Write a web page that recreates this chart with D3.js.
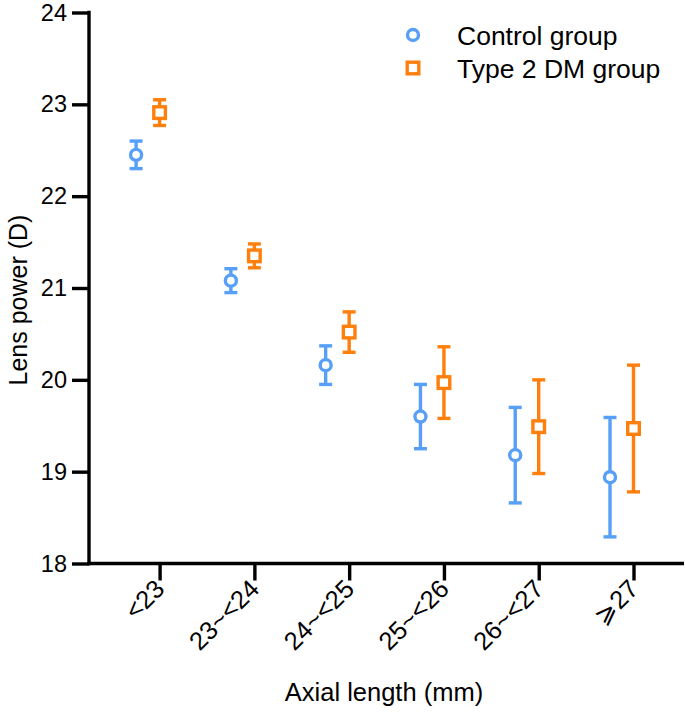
<!DOCTYPE html>
<html>
<head>
<meta charset="utf-8">
<script src="https://cdn.jsdelivr.net/npm/d3@7"></script>
<style>
  html, body { margin: 0; padding: 0; background: #fff; }
  svg { display: block; font-family: "Liberation Sans", Arial, sans-serif; }
</style>
</head>
<body>
<svg id="chart" width="685" height="716"></svg>
<script>
const categories = ["<23", "23~<24", "24~<25", "25~<26", "26~<27", "\u2A7E27"];
const controlMean = [22.45, 21.08, 20.16, 19.60, 19.18, 18.94];
const controlErr  = [0.15, 0.13, 0.21, 0.35, 0.52, 0.65];
const dmMean      = [22.91, 21.35, 20.52, 19.97, 19.49, 19.47];
const dmErr       = [0.14, 0.13, 0.22, 0.39, 0.51, 0.69];
const yTicks = [18, 19, 20, 21, 22, 23, 24];
const seriesNames = ["Control group", "Type 2 DM group"];
const colors = ["#579ff7", "#ff7f0c"];

const svg = d3.select("#chart");
const axisX0 = 89, axisX1 = 684;
const y = d3.scaleLinear().domain([18, 24]).range([563.5, 12.5]);
const x = d3.scalePoint().domain(categories).range([159.6, 633.5]);
const offsets = [-23.5, 0];
const sw = 3.4;

// Y axis
const yAxis = d3.axisLeft(y).tickValues(yTicks).tickSize(17).tickPadding(5).tickFormat(d3.format("d"));
const gy = svg.append("g").attr("transform", `translate(${axisX0},0)`).call(yAxis);
gy.select(".domain").remove();
gy.selectAll(".tick line").attr("stroke", "#000").attr("stroke-width", sw);
gy.selectAll(".tick text").attr("font-size", 23.5).attr("fill", "#000")
  .attr("font-family", "Liberation Sans, Arial, sans-serif");
svg.append("line").attr("x1", axisX0).attr("x2", axisX0)
  .attr("y1", y(24) - sw / 2).attr("y2", y(18) + sw / 2)
  .attr("stroke", "#000").attr("stroke-width", sw);

// X axis
const xAxis = d3.axisBottom(x).tickSize(17).tickFormat(() => "");
const gx = svg.append("g").attr("transform", `translate(0,${y(18)})`).call(xAxis);
gx.select(".domain").remove();
gx.selectAll(".tick line").attr("stroke", "#000").attr("stroke-width", sw);
svg.append("line").attr("x1", axisX0 - sw / 2).attr("x2", axisX1)
  .attr("y1", y(18)).attr("y2", y(18))
  .attr("stroke", "#000").attr("stroke-width", sw);

gx.selectAll(".tick").append("text")
  .text(d => d)
  .attr("text-anchor", "end")
  .attr("font-size", 25.5)
  .attr("fill", "#000")
  .attr("font-family", "Liberation Sans, Arial, sans-serif")
  .attr("transform", "translate(6,27) rotate(-45)");

// Axis titles
svg.append("text").text("Axial length (mm)")
  .attr("x", 384).attr("y", 701).attr("text-anchor", "middle")
  .attr("font-size", 25.5).attr("fill", "#000");
svg.append("text").text("Lens power (D)")
  .attr("transform", `translate(27,300) rotate(-90)`)
  .attr("text-anchor", "middle")
  .attr("font-size", 25).attr("fill", "#000");

// Data marks
const series = [
  { mean: controlMean, err: controlErr, shape: "circle" },
  { mean: dmMean, err: dmErr, shape: "square" }
];
const capW = 13;
series.forEach((s, si) => {
  const g = svg.append("g");
  categories.forEach((c, i) => {
    const cx = x(c) + offsets[si];
    const m = s.mean[i], e = s.err[i];
    const col = colors[si];
    g.append("line").attr("x1", cx).attr("x2", cx)
      .attr("y1", y(m + e)).attr("y2", y(m - e))
      .attr("stroke", col).attr("stroke-width", sw);
    [m + e, m - e].forEach(v => {
      g.append("line").attr("x1", cx - capW / 2).attr("x2", cx + capW / 2)
        .attr("y1", y(v)).attr("y2", y(v))
        .attr("stroke", col).attr("stroke-width", sw);
    });
    if (s.shape === "circle") {
      g.append("circle").attr("cx", cx).attr("cy", y(m)).attr("r", 5.5)
        .attr("fill", "#fff").attr("stroke", col).attr("stroke-width", sw);
    } else {
      g.append("rect").attr("x", cx - 5.8).attr("y", y(m) - 5.8)
        .attr("width", 11.6).attr("height", 11.6)
        .attr("fill", "#fff").attr("stroke", col).attr("stroke-width", sw);
    }
  });
});

// Legend
const legend = svg.append("g");
seriesNames.forEach((name, i) => {
  const ly = 35 + i * 33;
  if (i === 0) {
    legend.append("circle").attr("cx", 413).attr("cy", ly).attr("r", 5.5)
      .attr("fill", "#fff").attr("stroke", colors[i]).attr("stroke-width", sw);
  } else {
    legend.append("rect").attr("x", 413 - 5.8).attr("y", ly - 5.8)
      .attr("width", 11.6).attr("height", 11.6)
      .attr("fill", "#fff").attr("stroke", colors[i]).attr("stroke-width", sw);
  }
  legend.append("text").text(name)
    .attr("x", 457).attr("y", ly + 9.5)
    .attr("font-size", 26.5).attr("fill", "#000");
});
</script>
</body>
</html>
